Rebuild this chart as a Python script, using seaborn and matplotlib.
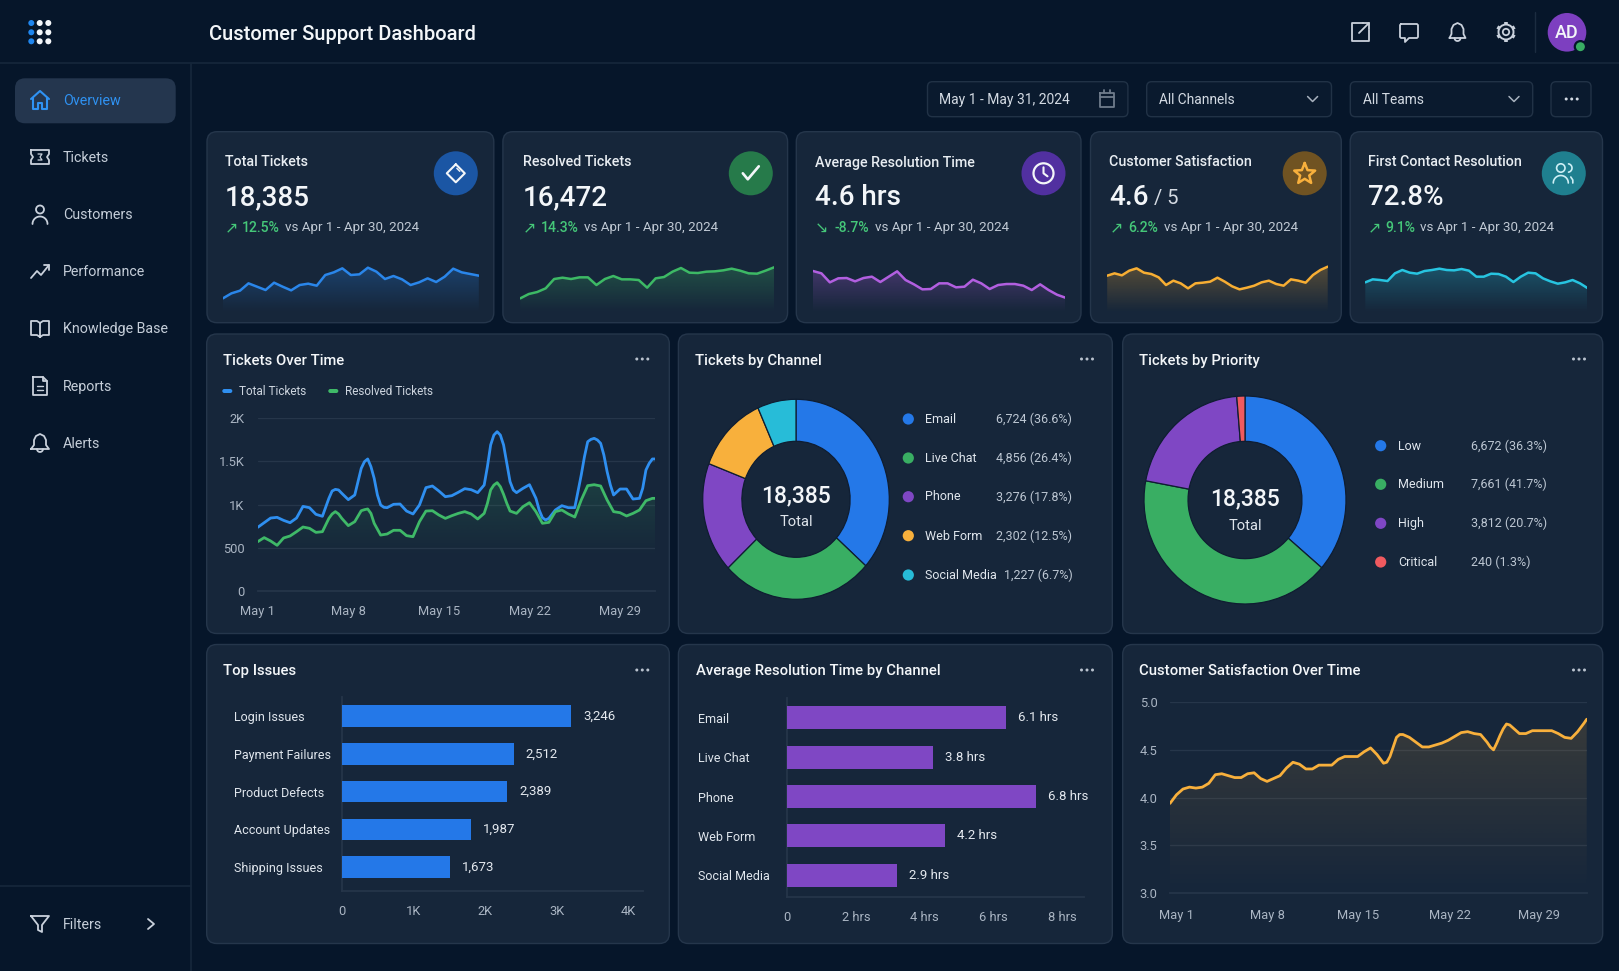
import numpy as np
import matplotlib
matplotlib.use("Agg")
import matplotlib.pyplot as plt
import seaborn as sns
from matplotlib.colors import to_rgb
from matplotlib.patches import FancyBboxPatch, Circle, Polygon

# ---- data ----
spark_total = [40,55,63,85,75,65,87,75,64,80,84,78,110,118,130,110,112,132,120,98,107,97,80,88,100,89,105,129,118,113,108]
spark_resolved = [40,53,59,70,98,102,98,103,103,80,98,107,97,97,95,72,100,104,120,131,117,116,120,121,124,129,123,115,114,123,133]
spark_time = [122,115,88,100,101,91,101,105,89,105,121,95,82,67,68,85,85,73,75,96,85,68,80,83,83,78,65,82,65,51,42]
spark_csat = [108,115,109,123,130,117,113,103,80,93,85,70,85,87,90,102,90,76,67,72,78,88,93,83,78,97,93,87,110,125,135]
spark_fcr = [88,97,95,92,115,125,117,114,122,125,129,125,124,128,123,105,105,114,113,105,89,105,117,115,100,91,84,88,95,85,71]

# half day samples, plus extra readings where the curves bend hard
tickets_total = [737,791,845,853,818,791,845,980,965,888,865,1073,1177,1131,1058,1112,1420,1529,1305,996,965,1004,1007,926,892,996,1197,1216,1158,1092,1104,1143,1185,1173,1139,1227,1691,1845,1691,1266,1139,1189,1231,1073,849,842,938,988,965,965,1343,1729,1768,1710,1382,1112,1181,1181,1065,1073,1401,1529]
total_extra_days = [5.75,6.25,7.75,8.25,8.75,9.25,9.75,17.75,18.25,18.75,19.25,19.75,21.75,22.25,25.25,25.75,26.25,26.75,27.25,29.75,30.25,30.7]
total_extra_vals = [1158,1170,1266,1498,1440,1112,969,1440,1806,1806,1478,1170,938,822,1556,1756,1749,1575,1228,1189,1478,1529]
tickets_resolved = [571,618,579,529,614,637,687,741,726,679,687,841,919,841,757,803,930,950,784,648,660,703,703,641,629,803,926,930,880,841,872,899,919,892,834,899,1170,1255,1119,926,899,977,1023,919,784,795,919,938,892,857,1054,1220,1231,1216,1054,919,907,869,899,938,1046,1073]
resolved_extra_days = [5.75,6.25,8.25,8.75,17.75,18.25,18.75,19.25,30.7]
resolved_extra_vals = [892,892,942,899,1015,1227,1208,1015,1073]
csat_over_time = [3.94,4.03,4.09,4.11,4.10,4.11,4.15,4.24,4.25,4.23,4.21,4.21,4.25,4.26,4.20,4.17,4.20,4.23,4.31,4.37,4.35,4.30,4.30,4.34,4.34,4.34,4.40,4.43,4.43,4.43,4.48,4.52,4.45,4.36,4.43,4.63,4.66,4.63,4.58,4.53,4.53,4.55,4.57,4.60,4.64,4.68,4.69,4.67,4.66,4.58,4.50,4.65,4.77,4.73,4.67,4.67,4.70,4.70,4.70,4.70,4.67,4.63,4.62,4.69,4.78]
csat_extra_days = [16.25,16.75,17.25,24.25,24.75,25.25,25.75,31.7]
csat_extra_vals = [4.37,4.53,4.66,4.53,4.57,4.72,4.76,4.82]
date_ticks = ["May 1", "May 8", "May 15", "May 22", "May 29"]

channel_names = ["Email", "Live Chat", "Phone", "Web Form", "Social Media"]
channel_values = [6724, 4856, 3276, 2302, 1227]
channel_labels = ["6,724 (36.6%)", "4,856 (26.4%)", "3,276 (17.8%)", "2,302 (12.5%)", "1,227 (6.7%)"]
priority_names = ["Low", "Medium", "High", "Critical"]
priority_values = [6672, 7661, 3812, 240]
priority_labels = ["6,672 (36.3%)", "7,661 (41.7%)", "3,812 (20.7%)", "240 (1.3%)"]

issue_names = ["Login Issues", "Payment Failures", "Product Defects", "Account Updates", "Shipping Issues"]
issue_lengths = [3200, 2400, 2310, 1800, 1505]   # as drawn, the bars run short of their labels
issue_labels = ["3,246", "2,512", "2,389", "1,987", "1,673"]
res_lengths = [6.37, 4.24, 7.24, 4.6, 3.2]
res_labels = ["6.1 hrs", "3.8 hrs", "6.8 hrs", "4.2 hrs", "2.9 hrs"]

nav_items = ["Overview", "Tickets", "Customers", "Performance", "Knowledge Base", "Reports", "Alerts"]

# ---- colours ----
BG = "#06162a"
CARD = "#16263a"
EDGE = "#25364b"
LINE = "#16273b"
GRID = "#26364a"
WHITE = "#f3f6f9"
SOFT = "#c7cfda"
TICK = "#aab5c3"
ICON = "#c9d1dc"
BLUE, GREEN, PURPLE, ORANGE, CYAN, RED = "#2478e8", "#39ae63", "#7f47c4", "#f8b03c", "#27bcd8", "#f05a5f"
UP = "#45c779"

sns.set_theme(style="dark")
plt.rcParams["font.family"] = ["Roboto", "DejaVu Sans"]
W, H = 1619, 971
fig = plt.figure(figsize=(W / 100, H / 100), dpi=100, facecolor=BG)
bg = fig.add_axes([0, 0, 1, 1], zorder=0)
bg.set_xlim(0, W)
bg.set_ylim(H, 0)
bg.axis("off")


def new_ax(left, top, right, bottom):
    ax = fig.add_axes([left / W, 1 - bottom / H, (right - left) / W, (bottom - top) / H], zorder=2)
    ax.patch.set_alpha(0)
    ax.grid(False)
    return ax


def box(x0, y0, x1, y1, face=CARD, edge=EDGE, r=10, lw=1.0):
    bg.add_patch(FancyBboxPatch((x0, y0), x1 - x0, y1 - y0, boxstyle=f"round,pad=0,rounding_size={r}",
                                fc=face, ec=edge, lw=lw))


def label(x, y, s, size=9, color=SOFT, weight="normal", ha="left", **kw):
    bg.text(x, y + 1.3, s, fontsize=size, color=color, weight=weight, ha=ha, va="center", zorder=5, **kw)


def stroke(cx, cy, pts, color=ICON, lw=1.3):
    pts = np.array(pts, dtype=float)
    bg.plot(cx + pts[:, 0], cy + pts[:, 1], color=color, lw=lw, solid_capstyle="round", solid_joinstyle="round", zorder=5)


def ring(cx, cy, r, color=ICON, lw=1.3, fill="none"):
    bg.add_patch(Circle((cx, cy), r, fc=fill, ec=color, lw=lw, zorder=5))


def dots(cx, cy, color="#b9c2ce"):
    for dx in (-5.5, 0, 5.5):
        bg.add_patch(Circle((cx + dx, cy), 1.5, fc=color, ec="none", zorder=5))


def arc(cx, cy, r, a0, a1, color=ICON, lw=1.3):
    t = np.radians(np.linspace(a0, a1, 30))
    bg.plot(cx + r * np.cos(t), cy + r * np.sin(t), color=color, lw=lw, solid_capstyle="round", zorder=5)


def gradient_fill(ax, x, y, color, alpha, floor):
    rgba = np.zeros((120, 1, 4))
    rgba[:, 0, :3] = to_rgb(color)
    rgba[:, 0, 3] = np.linspace(alpha, 0, 120)
    im = ax.imshow(rgba, extent=[x[0], x[-1], floor, max(y)], origin="upper", aspect="auto", zorder=1)
    verts = [(x[0], floor)] + list(zip(x, y)) + [(x[-1], floor)]
    clip = Polygon(verts, closed=True, fc="none", ec="none", transform=ax.transData)
    ax.add_patch(clip)
    im.set_clip_path(clip)


def merged(days, vals, extra_days, extra_vals):
    d = np.concatenate([days, extra_days])
    v = np.concatenate([vals, extra_vals])
    order = np.argsort(d)
    return d[order], v[order]


def style_axis(ax):
    ax.tick_params(axis="both", length=0, labelcolor=TICK, labelsize=9.3)
    for s in ax.spines.values():
        s.set_visible(False)
    ax.set_xlabel("")
    ax.set_ylabel("")


# ---- frame ----
bg.plot([0, W], [63.5, 63.5], color=LINE, lw=1.2)
bg.plot([190.7, 190.7], [64, H], color=LINE, lw=1.2)
bg.plot([0, 190.7], [886.5, 886.5], color=LINE, lw=1.2)

for ix, x in enumerate((31.3, 39.7, 48.3)):
    for y in (23, 32.3, 41.3):
        bg.add_patch(Circle((x, y), 3, fc="#1f86ee" if ix == 0 else WHITE, ec="none"))
label(208.7, 33.5, "Customer Support Dashboard", 14.5, WHITE, "medium")

# top right icons
stroke(1360, 32, [(3, -9), (-8, -9), (-8, 9), (9, 9), (9, -2)])
stroke(1360, 32, [(-1, 1), (9, -9)])
stroke(1360, 32, [(3, -9), (9, -9), (9, -3)])
stroke(1409, 32, [(-8, -8), (8, -8), (9, -7), (9, 5), (8, 6), (0, 6), (-4, 10), (-4, 6), (-8, 6), (-9, 5), (-9, -7), (-8, -8)])
stroke(1457.5, 32, [(-8, 6), (-6, 2), (-6, -3), (-4, -7), (0, -9), (4, -7), (6, -3), (6, 2), (8, 6), (-8, 6)])
arc(1457.5, 38, 3, 0, 180)
ring(1506, 32, 3.2)
ring(1506, 32, 7.5, lw=1.4)
for a in np.radians(np.arange(0, 360, 60) + 30):
    bg.plot([1506 + 7.5 * np.cos(a), 1506 + 10 * np.cos(a)], [32 + 7.5 * np.sin(a), 32 + 10 * np.sin(a)],
            color=ICON, lw=2.6, solid_capstyle="butt", zorder=5)
bg.plot([1534.6, 1534.6], [12, 52], color="#1b2c40", lw=1)
bg.add_patch(Circle((1567, 32.3), 19.3, fc="#7d3fc0", ec="none"))
label(1567, 31.5, "AD", 13, WHITE, "medium", ha="center")
bg.add_patch(Circle((1580.4, 46.7), 5.6, fc=GREEN, ec=BG, lw=1.6, zorder=6))

# filters
filter_boxes = [(927.5, 1127.9), (1146.7, 1331.5), (1350.3, 1532.7), (1551, 1591)]
for x0, x1 in filter_boxes:
    box(x0, 81.7, x1, 116.7, face="#0a1a2e", edge="#213246", r=5)
label(939.4, 98.8, "May 1 - May 31, 2024", 10, "#d3dae3")
label(1159, 98.8, "All Channels", 9.9, "#d3dae3")
label(1362.6, 98.8, "All Teams", 9.9, "#d3dae3")
stroke(1106.8, 99, [(-7, -6), (7, -6), (7, 8), (-7, 8), (-7, -6)], color="#6f7c8c")
stroke(1106.8, 99, [(-7, -2), (7, -2)], color="#6f7c8c")
stroke(1106.8, 99, [(-3, -9), (-3, -6)], color="#6f7c8c")
stroke(1106.8, 99, [(3, -9), (3, -6)], color="#6f7c8c")
for cx in (1312.6, 1514):
    stroke(cx, 99, [(-5, -2.5), (0, 2.5), (5, -2.5)], color="#a7b1be", lw=1.1)
dots(1571.7, 99, "#d3dae3")

# ---- sidebar ----
box(15, 78.3, 175.7, 123.3, face="#24364e", edge="none", r=10)
nav_y = [100, 156.7, 214, 271, 328.2, 385.6, 442.9]
for name, y in zip(nav_items, nav_y):
    label(62.8, y, name, 10.3, "#2f92f2" if name == "Overview" else "#c5ced9")
label(62.8, 924, "Filters", 10.3, "#c5ced9")
stroke(40, 100, [(-9, -1), (0, -9), (9, -1)], color="#2f92f2", lw=1.5)
stroke(40, 100, [(-7, -2), (-7, 9), (-2, 9), (-2, 3), (2, 3), (2, 9), (7, 9), (7, -2)], color="#2f92f2", lw=1.5)
stroke(40, 157, [(-9, -7), (9, -7), (9, -3), (7, 0), (9, 3), (9, 7), (-9, 7), (-9, 3), (-7, 0), (-9, -3), (-9, -7)])
stroke(40, 157, [(-2, -3), (2, -3), (0, 0), (2, 3), (-2, 3)], lw=0.9)
ring(40, 209.5, 4)
arc(40, 224, 7.5, 180, 360)
stroke(40, 271, [(-9, 7), (-3, 0), (1, 4), (9, -6)])
stroke(40, 271, [(4, -6), (9, -6), (9, -1)])
stroke(40, 328, [(0, -5), (-3, -7), (-9, -7), (-9, 7), (-3, 7), (0, 9), (3, 7), (9, 7), (9, -7), (3, -7), (0, -5), (0, 9)])
stroke(40, 386, [(-7, -9), (3, -9), (7, -5), (7, 9), (-7, 9), (-7, -9)])
stroke(40, 386, [(3, -9), (3, -5), (7, -5)])
stroke(40, 386, [(-3, 0), (3, 0)], lw=1)
stroke(40, 386, [(-3, 4), (3, 4)], lw=1)
stroke(40, 443, [(-9, 6), (-6, 2), (-6, -3), (-4, -7), (0, -9), (4, -7), (6, -3), (6, 2), (9, 6), (-9, 6)])
arc(40, 449, 3, 0, 180)
stroke(40, 924, [(-9, -8), (9, -8), (2, 1), (2, 8), (-2, 6), (-2, 1), (-9, -8)])
stroke(151, 924, [(-3, -5), (3, 0), (-3, 5)])

# ---- cards ----
kpi_boxes = [(207, 493.8), (502.9, 787.6), (796.3, 1081), (1090.5, 1341.3), (1350.2, 1602.5)]
for x0, x1 in kpi_boxes:
    box(x0, 131.7, x1, 322.7)
for x0, x1 in ((206.7, 669.3), (678.4, 1112.3), (1122.7, 1602.7)):
    box(x0, 334, x1, 633.5)
    box(x0, 644.5, x1, 943.5)

kpi_titles = ["Total Tickets", "Resolved Tickets", "Average Resolution Time", "Customer Satisfaction", "First Contact Resolution"]
kpi_values = ["18,385", "16,472", "4.6 hrs", "4.6", "72.8%"]
kpi_deltas = ["12.5%", "14.3%", "-8.7%", "6.2%", "9.1%"]
kpi_arrows = ["↗", "↗", "↘", "↗", "↗"]
text_x = [225, 522.5, 815.2, 1109.3, 1367.5]
delta_x = [242.3, 540.8, 834, 1128, 1385]
vs_x = [285, 583.5, 874.7, 1163.6, 1420]
circle_x = [455.8, 750.8, 1043.5, 1304.7, 1563.8]
circle_c = ["#1b56a4", "#267a4a", "#5130a0", "#705322", "#1f7f8f"]
for i in range(5):
    label(text_x[i], 161.2, kpi_titles[i], 10.3, "#e8edf2", "medium")
    label(text_x[i], 196.2, kpi_values[i], 20, WHITE, "medium")
    bg.text(text_x[i], 228, kpi_arrows[i], fontsize=11.5, color=UP, ha="left", va="center", family="DejaVu Sans", zorder=5)
    label(delta_x[i], 226.7, kpi_deltas[i], 10.1, UP, "medium")
    label(vs_x[i], 226.7, "vs Apr 1 - Apr 30, 2024", 9.6, "#c0c9d4")
    bg.add_patch(Circle((circle_x[i], 173.3), 22, fc=circle_c[i], ec="none", zorder=4))
label(1154, 197.5, "/ 5", 14.5, "#d5dbe3")

stroke(circle_x[0], 173.3, [(0, -9), (9, 0), (0, 9), (-9, 0), (0, -9)], color=WHITE, lw=1.5)
stroke(circle_x[0], 173.3, [(1, -5), (4, -2)], color=WHITE, lw=1)
stroke(circle_x[1], 173.3, [(-8, 0), (-3, 6), (8, -7)], color=WHITE, lw=1.9)
ring(circle_x[2], 173.3, 10, WHITE, 1.6)
stroke(circle_x[2], 173.3, [(0, -6), (0, 0), (4, 3)], color=WHITE, lw=1.5)
t = np.radians(np.arange(0, 720, 36) - 90)[:11]
rr = np.where(np.arange(11) % 2 == 0, 11, 4.8)
stroke(circle_x[3], 174, np.c_[rr * np.cos(t), rr * np.sin(t)], color=ORANGE, lw=1.8)
ring(circle_x[4] - 3, 168, 4.2, "#cdeff5", 1.2)
arc(circle_x[4] - 3, 183, 7.5, 180, 360, "#cdeff5", 1.2)
arc(circle_x[4] + 4, 168, 4.2, -80, 80, "#cdeff5", 1.2)
stroke(circle_x[4] + 9, 180, [(0, 3), (0, 0), (-2, -3)], color="#cdeff5", lw=1.2)

# sparklines share one height scale
sparks = [spark_total, spark_resolved, spark_time, spark_csat, spark_fcr]
spark_x = [(222.9, 478.8), (520.3, 774), (813, 1065.4), (1107.2, 1327.7), (1365.3, 1587.4)]
spark_c = ["#2a86ea", "#3db965", "#b25fe0", "#f7ae33", "#27c4e0"]
for vals, (x0, x1), col in zip(sparks, spark_x, spark_c):
    ax = new_ax(x0, 245, x1, 311.7)
    xs = np.arange(len(vals))
    gradient_fill(ax, xs, vals, col, 0.28, 0)
    sns.lineplot(x=xs, y=vals, color=col, lw=1.8, ax=ax, zorder=3, solid_joinstyle="round")
    ax.set_xlim(0, len(vals) - 1)
    ax.set_ylim(0, 140 * (311.7 - 245) / (311.7 - 265))
    ax.axis("off")

# ---- chart titles ----
chart_titles = [(223.3, 359.5, "Tickets Over Time"), (695, 359.5, "Tickets by Channel"), (1139, 359.5, "Tickets by Priority"),
                (223.3, 670, "Top Issues"), (695.5, 670, "Average Resolution Time by Channel"), (1139, 670, "Customer Satisfaction Over Time")]
for x, y, s in chart_titles:
    label(x, y, s, 10.7, WHITE, "medium")
for x in (642.3, 1087, 1579):
    dots(x, 359)
    dots(x, 670)

# ---- tickets over time ----
half_days = np.arange(len(tickets_total)) * 0.5
total_x, total_y = merged(half_days, tickets_total, total_extra_days, total_extra_vals)
resolved_x, resolved_y = merged(half_days, tickets_resolved, resolved_extra_days, resolved_extra_vals)
ax = new_ax(257.7, 418.3, 655, 591)
for v in (500, 1000, 1500, 2000):
    ax.axhline(v, color=GRID, lw=0.9, zorder=0)
gradient_fill(ax, resolved_x, resolved_y, GREEN, 0.18, 400)
sns.lineplot(x=total_x, y=total_y, color="#2f8ff0", lw=2, ax=ax, zorder=3, solid_joinstyle="round")
sns.lineplot(x=resolved_x, y=resolved_y, color="#3fb968", lw=2, ax=ax, zorder=3, solid_joinstyle="round")
ax.set_xlim(0, 30.7)
ax.set_ylim(0, 2000)
ax.set_yticks([0, 500, 1000, 1500, 2000], ["0", "500", "1K", "1.5K", "2K"])
ax.set_xticks([0, 7, 14, 21, 28], date_ticks)
style_axis(ax)
ax.spines["bottom"].set_visible(True)
ax.spines["bottom"].set_color(GRID)
ax.tick_params(axis="x", length=4, color=GRID, pad=6.3)
ax.tick_params(axis="y", pad=9.5)
for x, c, s in ((222.3, "#2f8ff0", "Total Tickets"), (328.3, "#3fb968", "Resolved Tickets")):
    box(x, 389, x + 10, 393, face=c, edge="none", r=2)
    label(x + 17, 390.5, s, 8.5, "#cdd5df")

# ---- donuts ----
for vals, colors, names, labs, cx, cy, rx, ry, width, dot_x, name_x, val_x, rows, ty0, ty1 in (
    (channel_values, [BLUE, GREEN, PURPLE, ORANGE, CYAN], channel_names, channel_labels, 796, 499.3, 93.3, 100, 0.42,
     908.3, 925.2, [996, 996, 996, 996, 1004.3], [419, 458, 496.7, 535.7, 575], 495, 521),
    (priority_values, [BLUE, GREEN, PURPLE, RED], priority_names, priority_labels, 1245, 500, 101, 104, 0.436,
     1380.7, 1398.2, [1471] * 4, [445.7, 484.3, 523.3, 562], 497.7, 524.3),
):
    ax = new_ax(cx - rx, cy - ry, cx + rx, cy + ry)
    ax.pie(vals, colors=colors, startangle=90, counterclock=False, radius=1,
           wedgeprops=dict(width=width, edgecolor="#0f1d31", linewidth=0.9))
    ax.set_aspect("auto")
    ax.set_xlim(-1, 1)
    ax.set_ylim(-1, 1)
    label(cx, ty0, "18,385", 16.5, WHITE, "medium", ha="center")
    label(cx, ty1, "Total", 10.6, "#dfe5ec", ha="center")
    for name, lab, y, vx, col in zip(names, labs, rows, val_x, colors):
        bg.add_patch(Circle((dot_x, y), 5.6, fc=col, ec="none", zorder=4))
        label(name_x, y - 1, name, 9, "#e0e6ed")
        label(vx, y - 1, lab, 9, "#bcc6d2")

# ---- bars ----
for names, lengths, labs, col, (left, top, right, bottom), zero_to, lim_y, bar_w, ticks, tick_labs, name_px in (
    (issue_names, issue_lengths, issue_labels, BLUE, (342.3, 696.7, 643.3, 890.7), 4210, (4.62, -0.51), 0.573,
     [0, 1000, 2000, 3000, 4000], ["0", "1K", "2K", "3K", "4K"], 342.3 - 234.3),
    (channel_names, res_lengths, res_labels, PURPLE, (787, 698.3, 1084, 896.7), 8.63, (4.54, -0.49), 0.584,
     [0, 2, 4, 6, 8], ["0", "2 hrs", "4 hrs", "6 hrs", "8 hrs"], 787 - 698),
):
    ax = new_ax(left, top, right, bottom)
    sns.barplot(x=lengths, y=names, color=col, saturation=1, width=bar_w, ax=ax, zorder=3, edgecolor="none", linewidth=0)
    ax.set_xlim(0, zero_to)
    ax.set_ylim(*lim_y)
    ax.set_xticks(ticks, tick_labs)
    style_axis(ax)
    for s in ("bottom", "left"):
        ax.spines[s].set_visible(True)
        ax.spines[s].set_color(GRID)
    ax.tick_params(axis="x", length=4, color=GRID, pad=6)
    ax.tick_params(axis="y", labelsize=9, labelcolor="#e0e6ed", pad=name_px * 0.72)
    for t_ in ax.get_yticklabels():
        t_.set_ha("left")
    ax.bar_label(ax.containers[0], labels=labs, padding=8.5, color="#e4e9ef", fontsize=9.5)

# ---- satisfaction over time ----
sat_x, sat_y = merged(np.arange(len(csat_over_time)) * 0.5 - 0.5, csat_over_time, csat_extra_days, csat_extra_vals)
ax = new_ax(1170, 702, 1586.7, 893.3)
for v in (3.5, 4.0, 4.5, 5.0):
    ax.axhline(v, color=GRID, lw=0.9, zorder=0)
gradient_fill(ax, sat_x, sat_y, ORANGE, 0.15, 3.0)
sns.lineplot(x=sat_x, y=sat_y, color=ORANGE, lw=2, ax=ax, zorder=3, solid_joinstyle="round")
ax.set_xlim(-0.5, 31.7)
ax.set_ylim(3, 5)
ax.set_yticks([3, 3.5, 4, 4.5, 5], ["3.0", "3.5", "4.0", "4.5", "5.0"])
ax.set_xticks([0, 7, 14, 21.1, 28], date_ticks)
style_axis(ax)
ax.spines["bottom"].set_visible(True)
ax.spines["bottom"].set_color(GRID)
ax.tick_params(axis="x", length=4, color=GRID, pad=7.5)
ax.tick_params(axis="y", pad=9)

fig.savefig("out.png", dpi=100, facecolor=BG)
